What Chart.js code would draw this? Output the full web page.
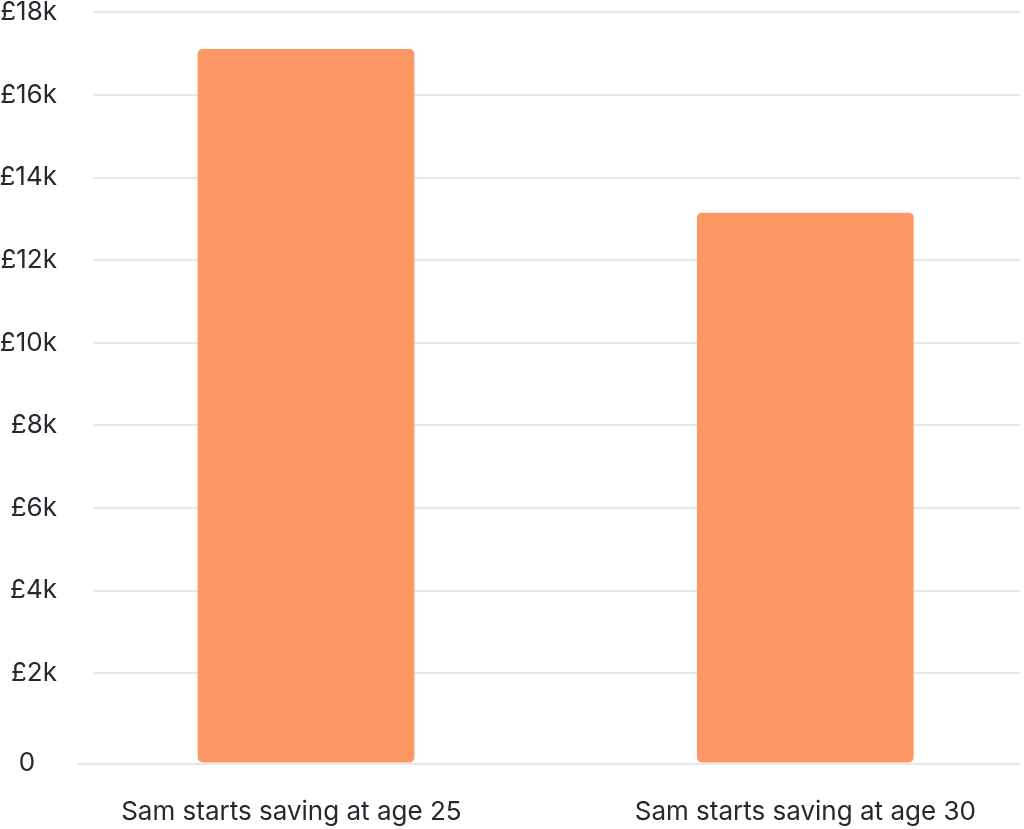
<!DOCTYPE html>
<html>
<head>
<meta charset="utf-8">
<script src="https://cdn.jsdelivr.net/npm/chart.js@4"></script>
<style>
  html, body { margin: 0; padding: 0; background: #ffffff; }
  #wrap { width: 1024px; height: 829px; position: relative; }
</style>
</head>
<body>
<div id="wrap"><canvas id="c"></canvas></div>
<script>
const categories = ['Sam starts saving at age 25', 'Sam starts saving at age 30'];
const savings = [17110, 13150];
const yTickValues = [0, 2000, 4000, 6000, 8000, 10000, 12000, 14000, 16000, 18000];
const yTickLabels = ['0', '£2k', '£4k', '£6k', '£8k', '£10k', '£12k', '£14k', '£16k', '£18k'];

const axisFloor = -185;
const textColor = '#272730';
const gridColor = '#E6E8EC';
const fontFamily = 'Inter, "Noto Sans", sans-serif';

function labelFor(value) {
  const v = value <= 0 ? 0 : value;
  const i = yTickValues.indexOf(v);
  if (i < 0) return '';
  return v === 0 ? yTickLabels[i] + '   ' : yTickLabels[i];
}

new Chart(document.getElementById('c'), {
  type: 'bar',
  data: {
    labels: categories,
    datasets: [{
      data: savings,
      base: axisFloor,
      backgroundColor: '#FF9765',
      borderWidth: 0,
      borderRadius: 5,
      borderSkipped: false,
      barPercentage: 0.434,
      categoryPercentage: 1
    }]
  },
  options: {
    responsive: true,
    maintainAspectRatio: false,
    animation: false,
    layout: { padding: { top: 0, right: 4, bottom: 0, left: 0 } },
    plugins: { legend: { display: false }, tooltip: { enabled: false } },
    scales: {
      x: {
        grid: { display: false, drawTicks: false },
        border: { display: false },
        ticks: {
          color: textColor,
          padding: 33,
          maxRotation: 0,
          font: { family: fontFamily, size: 26, weight: 400 },
          callback: function (value, index) {
            const t = categories[index];
            return index === 0 ? t + '    ' : t;
          }
        },
        afterFit: (scale) => {
          scale.height = 65.5;
          scale.paddingTop = 0;
          scale.paddingBottom = 0;
        },
        afterUpdate: (scale) => {
          scale._startValue = -0.4266;
          scale._valueRange = 1.8566;
        }
      },
      y: {
        min: axisFloor,
        max: 18000,
        afterBuildTicks: (scale) => {
          scale.ticks = yTickValues.map(v => ({ value: v === 0 ? axisFloor : v }));
        },
        ticks: {
          color: textColor,
          padding: 20,
          autoSkip: false,
          font: { family: fontFamily, size: 26, weight: 400, lineHeight: 1 },
          callback: (value) => labelFor(value)
        },
        grid: {
          color: gridColor,
          lineWidth: 2,
          drawTicks: true,
          tickLength: 16,
          tickColor: (ctx) => (ctx.tick && ctx.tick.value <= 0) ? gridColor : 'rgba(0,0,0,0)'
        },
        border: { display: false },
        afterFit: (scale) => {
          scale.width = 93;
          scale.paddingTop = 12.3;
          scale.paddingBottom = 0;
        }
      }
    }
  }
});
</script>
</body>
</html>
